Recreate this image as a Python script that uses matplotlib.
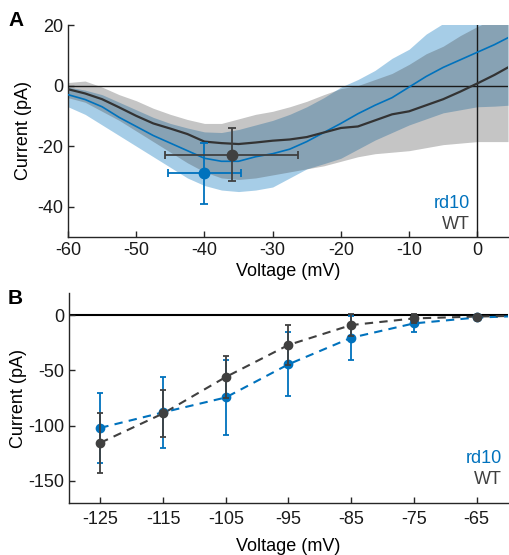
import matplotlib
matplotlib.use("Agg")
import matplotlib.pyplot as plt
import numpy as np

plt.rcParams['font.family'] = ['Liberation Sans', 'DejaVu Sans']
plt.rcParams['font.size'] = 13
plt.rcParams['axes.unicode_minus'] = False

BLUE = '#0072BD'
DARK = '#404040'

# ---------------- Panel A data ----------------
voltage_a = [-60, -57.5, -55, -52.5, -50, -47.5, -45, -42.5, -40, -37.5, -35, -32.5,
             -30, -27.5, -25, -22.5, -20, -17.5, -15, -12.5, -10, -7.5, -5, -2.5, 0, 2.5, 4.5]
wt_mean = [-1.2, -2.6, -4.5, -7.2, -10, -12.5, -14.2, -16, -18.5, -19, -19.3, -18.8,
           -18.2, -17.8, -17, -15.5, -14, -13.5, -11.5, -9.5, -8.5, -6.5, -4.5, -2, 0.7, 3.5, 6]
wt_upper = [1.0, 1.5, -0.5, -3, -5, -7.5, -9.5, -11.2, -12.5, -12.5, -11, -9.5,
            -8.5, -7, -5.2, -3, -1, 0, 2, 4, 7, 10.5, 13, 16.5, 19.5, 22, 24]
wt_lower = [-4, -5.5, -8.5, -11.5, -15, -18.5, -22, -25.5, -28.5, -30.5, -31, -30.5,
            -29.5, -28.5, -27.5, -26.5, -25, -23.5, -22.5, -22, -21.5, -20.5, -19.5, -19, -18.5, -18.5, -18.5]
rd10_mean = [-3, -4.6, -7, -10.5, -13.5, -16.5, -19, -21.5, -24, -25, -25, -23.5,
             -22.5, -21, -18.5, -15.5, -12.5, -9.3, -6.5, -4, -0.5, 3, 6, 8.5, 11, 13.5, 15.8]
rd10_upper = [-0.5, -1.5, -3, -5.5, -8, -10.5, -12.5, -14, -15.3, -15.5, -14.5, -13,
              -11.5, -9.5, -7, -4, -0.5, 2, 5, 9, 12, 17, 20.5, 23.5, 26, 29, 31]
rd10_lower = [-7, -9.5, -13, -16.5, -20, -23.5, -27, -30.5, -33, -34.5, -35, -34.5,
              -33.5, -30.5, -27.5, -25.8, -24, -21, -18, -15.5, -13, -11, -9, -8, -7, -6.8, -6.5]

# summary points (threshold) with x and y errors
rd10_pt = (-40, -29)
rd10_xerr = ([5.3], [5.4])
rd10_yerr = ([10], [10])
wt_pt = (-36, -23)
wt_xerr = ([9.8], [9.7])
wt_yerr = ([8.5], [9])

# ---------------- Panel B data ----------------
voltage_b = [-125, -115, -105, -95, -85, -75, -65]
wt_b = [-115.5, -89, -56, -27, -9, -3, -1.5]
wt_b_err = [27, 21, 19, 18, 10, 4, 2]
rd10_b = [-102, -88, -74.5, -44.5, -20.5, -7.5, -1.5]
rd10_b_err = [31.5, 32, 34, 29, 20, 8, 1]
fit_v = [-125, -115, -105, -95, -85, -75, -65, -60]
wt_fit = [-115.5, -89, -56, -27, -9, -3, -1.3, -0.8]
rd10_fit = [-102, -88, -74.5, -44.5, -20.5, -7.5, -2.2, -1.2]

fig = plt.figure(figsize=(5.09, 5.55), dpi=100)

# ---------------- Panel A ----------------
axA = fig.add_axes([68/509, 318/555, 440/509, 212/555])
axA.fill_between(voltage_a, rd10_lower, rd10_upper, color=BLUE, alpha=0.35, lw=0)
axA.fill_between(voltage_a, wt_lower, wt_upper, color=DARK, alpha=0.30, lw=0)
axA.axhline(0, color='#1a1a1a', lw=1.0, zorder=3)
axA.axvline(0, color='#1a1a1a', lw=1.0, zorder=3)
axA.plot(voltage_a, rd10_mean, color=BLUE, lw=1.2, zorder=4)
axA.plot(voltage_a, wt_mean, color='#333333', lw=1.6, zorder=4)
axA.errorbar([rd10_pt[0]], [rd10_pt[1]], xerr=rd10_xerr, yerr=rd10_yerr, fmt='o', color=BLUE,
             ms=7.5, capsize=3, elinewidth=1.3, capthick=1.3, zorder=5)
axA.errorbar([wt_pt[0]], [wt_pt[1]], xerr=wt_xerr, yerr=wt_yerr, fmt='o', color=DARK,
             ms=7.5, capsize=3, elinewidth=1.3, capthick=1.3, zorder=6)
axA.set_xlim(-60, 4.5)
axA.set_ylim(-50, 20)
axA.set_xticks([-60, -50, -40, -30, -20, -10, 0])
axA.set_yticks([-40, -20, 0, 20])
axA.set_xlabel('Voltage (mV)', labelpad=3)
axA.set_ylabel('Current (pA)', labelpad=4)
axA.text(0.914, 0.156, 'rd10', color=BLUE, transform=axA.transAxes, ha='right', va='center', fontsize=13)
axA.text(0.914, 0.057, 'WT', color=DARK, transform=axA.transAxes, ha='right', va='center', fontsize=13)

# ---------------- Panel B ----------------
axB = fig.add_axes([69/509, 52/555, 439/509, 210/555])
axB.axhline(0, color='black', lw=1.5, zorder=1)
axB.plot(fit_v, rd10_fit, '--', color=BLUE, lw=1.5, dashes=(4, 3), zorder=2)
axB.plot(fit_v, wt_fit, '--', color=DARK, lw=1.5, dashes=(4, 3), zorder=2)
axB.errorbar(voltage_b, rd10_b, yerr=rd10_b_err, fmt='o', color=BLUE, ms=6,
             capsize=2.5, elinewidth=1.3, capthick=1.3, zorder=3)
axB.errorbar(voltage_b, wt_b, yerr=wt_b_err, fmt='o', color=DARK, ms=6,
             capsize=2.5, elinewidth=1.3, capthick=1.3, zorder=4)
axB.set_xlim(-130, -60)
axB.set_ylim(-170, 20)
axB.set_xticks(voltage_b)
axB.set_xticklabels([str(v) for v in voltage_b])
axB.set_yticks([-150, -100, -50, 0])
axB.set_xlabel('Voltage (mV)', labelpad=7)
axB.set_ylabel('Current (pA)', labelpad=1)
axB.text(0.986, 0.214, 'rd10', color=BLUE, transform=axB.transAxes, ha='right', va='center', fontsize=13)
axB.text(0.986, 0.114, 'WT', color=DARK, transform=axB.transAxes, ha='right', va='center', fontsize=13)

for ax in (axA, axB):
    for s in ('top', 'right'):
        ax.spines[s].set_visible(False)
    for s in ('left', 'bottom'):
        ax.spines[s].set_color('#262626')
        ax.spines[s].set_linewidth(1.0)
    ax.tick_params(direction='in', length=4, width=1.0, colors='#262626', labelcolor='#1a1a1a', labelsize=13)
axB.tick_params(axis='x', pad=6)

fig.text(8/509, 1 - 20/555, 'A', fontsize=15, fontweight='bold', va='center', ha='left')
fig.text(8/509, 1 - 299/555, 'B', fontsize=15, fontweight='bold', va='center', ha='left')

fig.savefig('out.png', dpi=100)
